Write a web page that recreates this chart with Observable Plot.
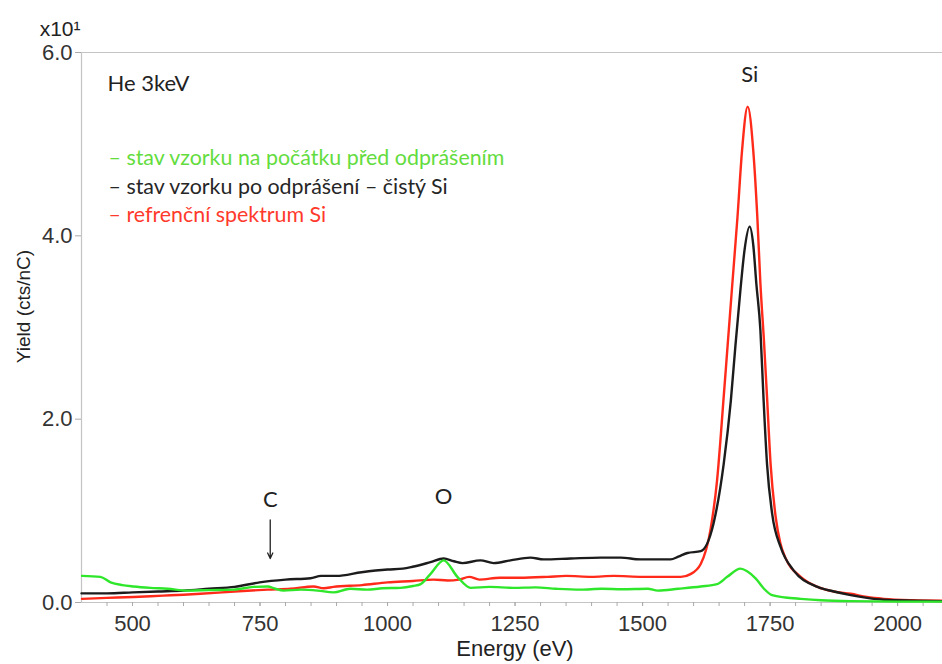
<!DOCTYPE html>
<html><head><meta charset="utf-8">
<script src="https://cdn.jsdelivr.net/npm/d3@7"></script>
<script src="https://cdn.jsdelivr.net/npm/@observablehq/plot@0.6"></script>
<style>
html,body{margin:0;padding:0;background:#fff;}
</style></head><body><div id="chart"></div>
<script>
// ---- data ----
const seriesNames = ["stav vzorku na počátku před odprášením", "stav vzorku po odprášení – čistý Si", "refrenční spektrum Si"];
const lineColors = ["#2ee62a", "#1c1c1c", "#ff2a1a"];
const legendColors = ["#63dc3e", "#262626", "#ff3a2c"];

const greenEnergy = [401,437,457,480,502,535,569,608,650,698,737,765,780,796,830,863,894,927,960,990,1025,1050,1065,1084,1110,1137,1163,1200,1247,1290,1330,1378,1420,1460,1510,1530,1570,1614,1646,1666,1692,1705,1722,1738,1754,1780,1810,1850,1908,2000,2088];
const greenYield  = [0.29,0.28,0.22,0.19,0.175,0.16,0.15,0.13,0.135,0.14,0.17,0.175,0.15,0.13,0.14,0.13,0.11,0.15,0.14,0.155,0.16,0.18,0.20,0.31,0.46,0.28,0.16,0.17,0.16,0.165,0.15,0.14,0.15,0.145,0.15,0.13,0.15,0.175,0.20,0.28,0.37,0.34,0.26,0.15,0.08,0.055,0.04,0.025,0.015,0.01,0.01];

const blackEnergy = [400,450,500,550,600,650,700,749,800,849,870,900,949,1000,1030,1049,1084,1110,1130,1147,1182,1208,1241,1280,1306,1359,1418,1457,1496,1555,1570,1588,1614,1639,1659,1673,1682,1692,1700,1710,1717,1723,1731,1737,1744,1754,1771,1796,1843,1875,1908,1940,1973,2030,2088];
const blackYield  = [0.10,0.10,0.11,0.12,0.13,0.15,0.17,0.22,0.25,0.265,0.29,0.29,0.33,0.36,0.37,0.39,0.44,0.48,0.45,0.43,0.46,0.43,0.46,0.49,0.47,0.48,0.49,0.49,0.47,0.47,0.50,0.54,0.56,0.86,1.51,2.20,2.80,3.42,3.85,4.10,3.90,3.48,2.97,2.24,1.51,0.97,0.60,0.35,0.17,0.12,0.08,0.05,0.03,0.02,0.015];

const redEnergy = [401,450,502,560,600,633,700,765,810,855,875,894,950,1000,1050,1090,1118,1140,1160,1180,1220,1260,1314,1350,1400,1443,1500,1550,1575,1594,1614,1633,1646,1659,1666,1676,1686,1695,1706,1717,1725,1731,1738,1744,1751,1761,1770,1780,1810,1843,1875,1908,1940,1973,2030,2088];
const redYield  = [0.04,0.05,0.06,0.075,0.085,0.095,0.12,0.14,0.15,0.175,0.155,0.17,0.19,0.22,0.235,0.25,0.24,0.25,0.28,0.25,0.27,0.27,0.28,0.29,0.28,0.29,0.28,0.28,0.28,0.31,0.42,0.79,1.33,2.24,2.75,3.48,4.20,4.93,5.41,4.93,4.20,3.48,2.85,2.24,1.51,0.93,0.65,0.49,0.28,0.17,0.12,0.095,0.06,0.04,0.025,0.02];

const xTicks = [500,750,1000,1250,1500,1750,2000];
const xMinorTicks = d3.range(450, 2088, 50);
const yTicks = [0,2,4,6];
const peakLabels = ["C","O","Si"];
const peakEnergy = [770,1110,1710];
const peakLabelYield = [1.12,1.15,5.75];
const arrowEnergy = [770];
const arrowFrom = [0.90];
const arrowTo = [0.48];

// ---- build tables ----
const toRows = (E, V) => E.map((e, i) => ({e, v: V[i]}));
const green = toRows(greenEnergy, greenYield);
const black = toRows(blackEnergy, blackYield);
const red = toRows(redEnergy, redYield);
const peaks = peakLabels.map((t, i) => ({t, e: peakEnergy[i], v: peakLabelYield[i]}));
const arrows = arrowEnergy.map((e, i) => ({e, v1: arrowFrom[i], v2: arrowTo[i]}));

const annFont = "Lato";
const axFont = "Liberation Sans";
const legendDy = [106, 135, 163];

const chart = Plot.plot({
  width: 942,
  height: 664,
  marginTop: 52,
  marginLeft: 81,
  marginRight: 0,
  marginBottom: 62,
  style: {background: "#fff", color: "#333"},
  x: {domain: [400, 2088]},
  y: {domain: [0, 6]},
  marks: [
    Plot.ruleY([6], {stroke: "#c4c4c4", strokeWidth: 1.2}),
    Plot.ruleX([400], {stroke: "#c4c4c4", strokeWidth: 1.2}),
    Plot.ruleY([0], {stroke: "#c4c4c4", strokeWidth: 1.2}),
    Plot.axisX({ticks: xMinorTicks, tickSize: 4, tickFormat: () => "", label: null, stroke: "#aaa"}),
    Plot.axisX({ticks: xTicks, tickSize: 4, tickPadding: 9, fontSize: 22, fontFamily: axFont, tickFormat: d3.format("d"), label: null, stroke: "#aaa", fill: "#333"}),
    Plot.axisY({ticks: yTicks, tickSize: 6, tickPadding: 3, fontSize: 22, fontFamily: axFont, tickFormat: d3.format(".1f"), label: null, stroke: "#aaa", fill: "#333"}),
    Plot.line(red, {x: "e", y: "v", stroke: lineColors[2], strokeWidth: 2.4, curve: "monotone-x"}),
    Plot.line(black, {x: "e", y: "v", stroke: lineColors[1], strokeWidth: 2.4, curve: "monotone-x"}),
    Plot.line(green, {x: "e", y: "v", stroke: lineColors[0], strokeWidth: 2.4, curve: "monotone-x"}),
    Plot.arrow(arrows, {x1: "e", x2: "e", y1: "v1", y2: "v2", stroke: "#222", strokeWidth: 1.3, headLength: 7, headAngle: 50}),
    Plot.text(peaks, {x: "e", y: "v", text: "t", fontSize: 22, fill: "#222", fontFamily: annFont}),
    Plot.text(["He 3keV"], {frameAnchor: "top-left", dx: 26, dy: 23, textAnchor: "start", fontSize: 22, fill: "#222", fontFamily: annFont}),
    ...seriesNames.map((name, i) => Plot.text(["– " + name], {frameAnchor: "top-left", dx: 27, dy: legendDy[i], textAnchor: "start", lineAnchor: "middle", fontSize: 21.4, fill: legendColors[i], fontFamily: annFont})),
    Plot.text(["x10¹"], {frameAnchor: "top-left", dx: -1, dy: -31, textAnchor: "end", fontSize: 21, fill: "#222", fontFamily: axFont}),
    Plot.text(["Energy (eV)"], {frameAnchor: "bottom", dx: 3, dy: 46, lineAnchor: "middle", fontSize: 22, fill: "#222", fontFamily: axFont}),
    Plot.text(["Yield (cts/nC)"], {frameAnchor: "left", dx: -58, dy: -21, rotate: -90, textAnchor: "middle", lineAnchor: "middle", fontSize: 19, fill: "#222", fontFamily: axFont})
  ]
});
document.getElementById("chart").append(chart);
</script>
</body></html>
